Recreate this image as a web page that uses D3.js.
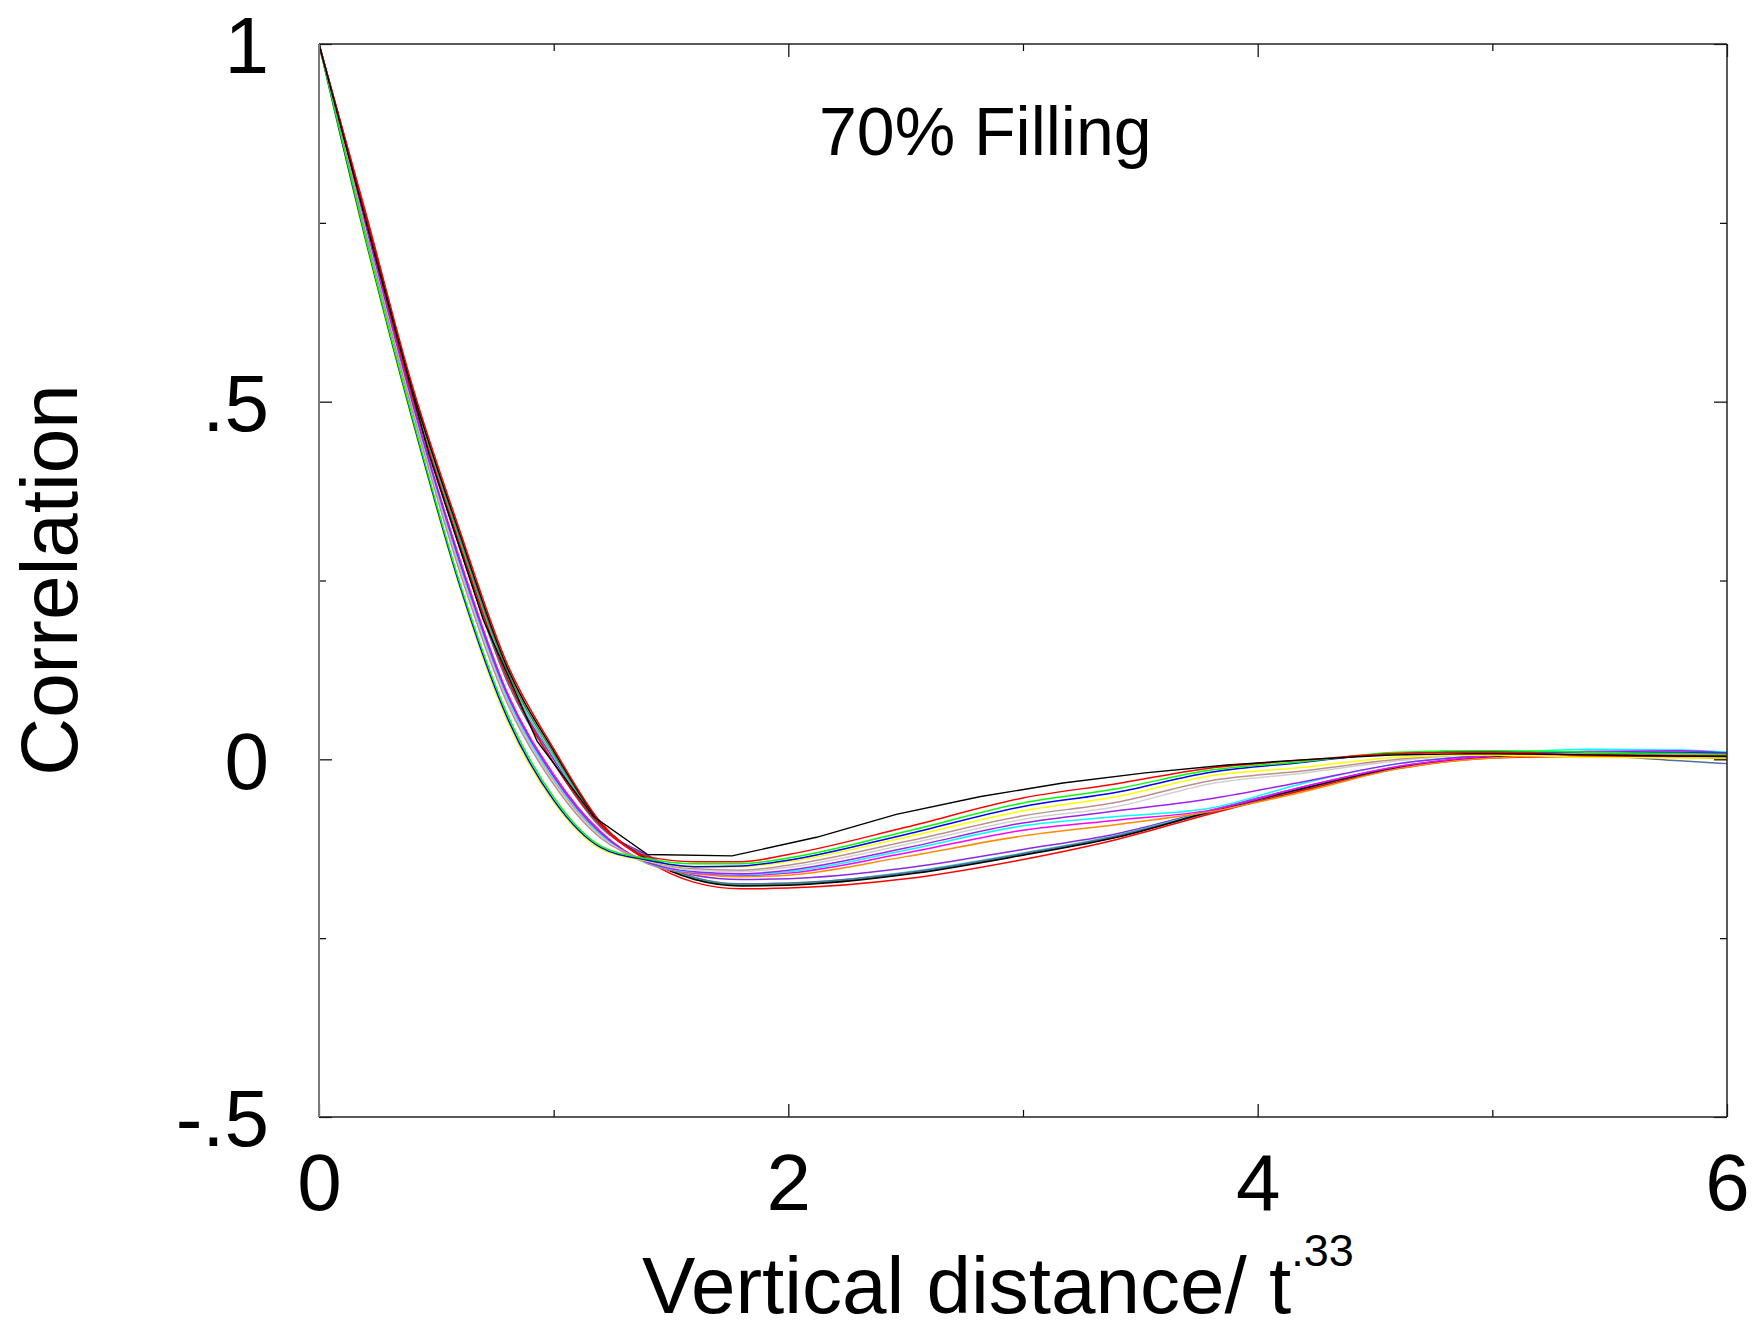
<!DOCTYPE html>
<html>
<head>
<meta charset="utf-8">
<script src="https://cdn.jsdelivr.net/npm/d3@7"></script>
<style>
  html, body { margin: 0; padding: 0; background: #fff; }
  svg { display: block; font-family: "Liberation Sans", Arial, sans-serif; }
</style>
</head>
<body>
<svg id="chart" width="1756" height="1331"></svg>
<script>
// ---------------- data ----------------
const xGrid = [0, 0.2, 0.4, 0.6, 0.8, 1.0, 1.2, 1.4, 1.6, 1.8, 2.0, 2.5, 3.0, 3.4, 3.8, 4.2, 4.6, 5.0, 5.4, 5.8, 6.0];

const redA    = [1, 0.755, 0.505, 0.300, 0.115, -0.005, -0.092, -0.136, -0.143, -0.143, -0.133, -0.095, -0.054, -0.034, -0.012, -0.001, 0.008, 0.010, 0.006, 0.005, 0.005];
const greenA  = [1, 0.727, 0.476, 0.247, 0.065, -0.053, -0.121, -0.139, -0.146, -0.146, -0.138, -0.101, -0.061, -0.041, -0.015, -0.003, 0.010, 0.012, 0.010, 0.008, 0.007];
const blueA   = [1, 0.725, 0.473, 0.243, 0.060, -0.057, -0.123, -0.141, -0.150, -0.149, -0.141, -0.105, -0.066, -0.046, -0.018, -0.004, 0.009, 0.011, 0.010, 0.009, 0.008];
const yellowA = [1, 0.722, 0.470, 0.240, 0.055, -0.060, -0.125, -0.142, -0.151, -0.150, -0.143, -0.109, -0.072, -0.052, -0.023, -0.011, 0.003, 0.006, 0.003, 0.002, 0.002];
const tanA    = [1, 0.735, 0.485, 0.262, 0.080, -0.035, -0.110, -0.141, -0.153, -0.155, -0.148, -0.115, -0.079, -0.060, -0.030, -0.016, 0.000, 0.008, 0.009, 0.007, 0.006];
const grayA   = [1, 0.737, 0.487, 0.265, 0.083, -0.032, -0.108, -0.142, -0.155, -0.157, -0.151, -0.119, -0.084, -0.066, -0.034, -0.019, -0.002, 0.008, 0.010, 0.008, 0.007];
const purpleA = [1, 0.745, 0.496, 0.276, 0.092, -0.024, -0.103, -0.144, -0.157, -0.160, -0.155, -0.124, -0.089, -0.072, -0.055, -0.031, -0.006, 0.006, 0.011, 0.012, 0.009];
const cyanA   = [1, 0.742, 0.493, 0.272, 0.088, -0.027, -0.105, -0.145, -0.158, -0.161, -0.157, -0.127, -0.093, -0.080, -0.068, -0.033, -0.006, 0.007, 0.014, 0.013, 0.010];
const magentaA= [1, 0.747, 0.498, 0.280, 0.095, -0.021, -0.101, -0.145, -0.159, -0.162, -0.159, -0.131, -0.099, -0.085, -0.071, -0.038, -0.010, 0.005, 0.011, 0.010, 0.008];
const orangeA = [1, 0.740, 0.490, 0.268, 0.085, -0.030, -0.107, -0.146, -0.160, -0.164, -0.162, -0.136, -0.107, -0.091, -0.073, -0.045, -0.013, 0.002, 0.006, 0.004, 0.002];

const violetB = [1, 0.752, 0.506, 0.300, 0.115, 0.000, -0.093, -0.134, -0.162, -0.168, -0.167, -0.152, -0.126, -0.104, -0.071, -0.038, -0.010, 0.004, 0.008, 0.006, 0.004];
const tealB   = [1, 0.755, 0.510, 0.305, 0.120, 0.004, -0.092, -0.138, -0.165, -0.175, -0.174, -0.158, -0.131, -0.106, -0.072, -0.039, -0.010, 0.004, 0.009, 0.011, 0.010];
const greenB  = [1, 0.758, 0.513, 0.310, 0.125, 0.008, -0.090, -0.139, -0.167, -0.176, -0.175, -0.160, -0.133, -0.108, -0.074, -0.041, -0.012, 0.003, 0.007, 0.006, 0.005];
const blackB  = [1, 0.760, 0.515, 0.315, 0.130, 0.012, -0.089, -0.140, -0.168, -0.177, -0.176, -0.161, -0.134, -0.109, -0.073, -0.040, -0.011, 0.003, 0.006, 0.005, 0.004];
const steelB  = [1, 0.750, 0.503, 0.295, 0.110, -0.005, -0.095, -0.136, -0.165, -0.174, -0.173, -0.159, -0.132, -0.107, -0.074, -0.042, -0.012, 0.003, 0.005, -0.002, -0.006];
const redB    = [1, 0.763, 0.520, 0.320, 0.135, 0.015, -0.088, -0.142, -0.172, -0.181, -0.180, -0.167, -0.140, -0.112, -0.076, -0.043, -0.013, 0.002, 0.004, 0.003, 0.001];

// coarse black curve (own sampling)
const blackX = [0, 0.23, 0.47, 0.70, 0.93, 1.17, 1.40, 1.76, 2.12, 2.46, 2.82, 3.17, 3.52, 3.87, 4.22, 4.57, 4.92, 5.27, 5.62, 6.0];
const blackY = [1.0, 0.715, 0.425, 0.195, 0.025, -0.080, -0.133, -0.135, -0.109, -0.077, -0.052, -0.033, -0.019, -0.008, 0.000, 0.006, 0.008, 0.007, 0.005, 0.004];

const seriesNames  = ["violetB","tealB","greenB","steelB","blackB","redB","orange","magenta","cyan","purple","gray","tan","yellow","blue","green","red"];
const seriesValues = [violetB, tealB, greenB, steelB, blackB, redB, orangeA, magentaA, cyanA, purpleA, grayA, tanA, yellowA, blueA, greenA, redA];
const seriesColors = ["#8a2be2","#3cc8c0","#2e9a2e","#4f6fa8","#000000","#ff0000","#ff8c00","#ff00ff","#00ffff","#a020f0","#d0d0d0","#bc8f8f","#ffff00","#0000ff","#00ff00","#ff0000"];

const xMajor = [0, 2, 4, 6];
const xMinor = [1, 3, 5];
const yMajor = [1, 0.5, 0, -0.5];
const yMajorLabels = ["1", ".5", "0", "-.5"];
const yMinor = [0.75, 0.25, -0.25];

const titleText = "70% Filling";
const xLabelMain = "Vertical distance/ t";
const xLabelSup = ".33";
const yLabelText = "Correlation";

// ---------------- layout ----------------
const L = 319, R = 1727, T = 44, B = 1117;
const svg = d3.select("#chart");
const x = d3.scaleLinear().domain([0, 6]).range([L, R]);
const y = d3.scaleLinear().domain([-0.5, 1]).range([B, T]);

const line = d3.line().x(d => x(d[0])).y(d => y(d[1])).curve(d3.curveMonotoneX);
const lineLin = d3.line().x(d => x(d[0])).y(d => y(d[1]));

const gLines = svg.append("g");
seriesValues.forEach((vals, i) => {
  gLines.append("path")
    .datum(xGrid.map((xv, j) => [xv, vals[j]]))
    .attr("d", line)
    .attr("fill", "none")
    .attr("stroke", seriesColors[i])
    .attr("stroke-width", 1.5)
    .attr("stroke-linejoin", "round");
});
gLines.append("path")
  .datum(blackX.map((xv, j) => [xv, blackY[j]]))
  .attr("d", lineLin)
  .attr("fill", "none")
  .attr("stroke", "#000")
  .attr("stroke-width", 1.4);

// ---------------- axes ----------------
const fontSize = 80;
function styleAxis(g) {
  g.select(".domain").remove();
  g.selectAll(".tick line").attr("stroke", "#000").attr("stroke-width", 1.2);
  g.selectAll("text").attr("font-size", fontSize).attr("fill", "#000")
    .attr("font-family", '"Liberation Sans", Arial, sans-serif');
}
// bottom
svg.append("g").attr("transform", `translate(0,${B})`)
  .call(d3.axisBottom(x).tickValues(xMajor).tickFormat(d3.format("d")).tickSizeInner(-13).tickSizeOuter(0).tickPadding(36))
  .call(styleAxis);
svg.append("g").attr("transform", `translate(0,${B})`)
  .call(d3.axisBottom(x).tickValues(xMinor).tickFormat("").tickSizeInner(-7).tickSizeOuter(0))
  .call(styleAxis);
// top
svg.append("g").attr("transform", `translate(0,${T})`)
  .call(d3.axisTop(x).tickValues(xMajor).tickFormat("").tickSizeInner(-13).tickSizeOuter(0))
  .call(styleAxis);
svg.append("g").attr("transform", `translate(0,${T})`)
  .call(d3.axisTop(x).tickValues(xMinor).tickFormat("").tickSizeInner(-7).tickSizeOuter(0))
  .call(styleAxis);
// left
const gLeft = svg.append("g").attr("transform", `translate(${L},0)`)
  .call(d3.axisLeft(y).tickValues(yMajor).tickFormat((d, i) => yMajorLabels[i]).tickSizeInner(-13).tickSizeOuter(0).tickPadding(50))
  .call(styleAxis);
gLeft.selectAll("text").attr("dy", "0.36em");
svg.append("g").attr("transform", `translate(${L},0)`)
  .call(d3.axisLeft(y).tickValues(yMinor).tickFormat("").tickSizeInner(-7).tickSizeOuter(0))
  .call(styleAxis);
// right
svg.append("g").attr("transform", `translate(${R},0)`)
  .call(d3.axisRight(y).tickValues(yMajor).tickFormat("").tickSizeInner(-13).tickSizeOuter(0))
  .call(styleAxis);
svg.append("g").attr("transform", `translate(${R},0)`)
  .call(d3.axisRight(y).tickValues(yMinor).tickFormat("").tickSizeInner(-7).tickSizeOuter(0))
  .call(styleAxis);

// frame
svg.append("line").attr("x1", L).attr("x2", R).attr("y1", T).attr("y2", T).attr("stroke", "#222").attr("stroke-width", 1.5);
svg.append("line").attr("x1", L).attr("x2", R).attr("y1", B).attr("y2", B).attr("stroke", "#222").attr("stroke-width", 1.5);
svg.append("line").attr("x1", R).attr("x2", R).attr("y1", T).attr("y2", B).attr("stroke", "#222").attr("stroke-width", 1.5);
svg.append("line").attr("x1", L).attr("x2", L).attr("y1", T).attr("y2", B).attr("stroke", "#7a7a7a").attr("stroke-width", 2);

// ---------------- text ----------------
svg.append("text")
  .attr("x", 819).attr("y", 155)
  .attr("font-size", 68).attr("fill", "#000")
  .text(titleText);

const xl = svg.append("text")
  .attr("x", 642).attr("y", 1313)
  .attr("font-size", 80).attr("fill", "#000");
xl.append("tspan").text(xLabelMain);
xl.append("tspan").attr("font-size", 45).attr("dy", -47).text(xLabelSup);

svg.append("text")
  .attr("transform", "translate(77,580) rotate(-90)")
  .attr("text-anchor", "middle")
  .attr("font-size", 80).attr("fill", "#000")
  .text(yLabelText);
</script>
</body>
</html>
